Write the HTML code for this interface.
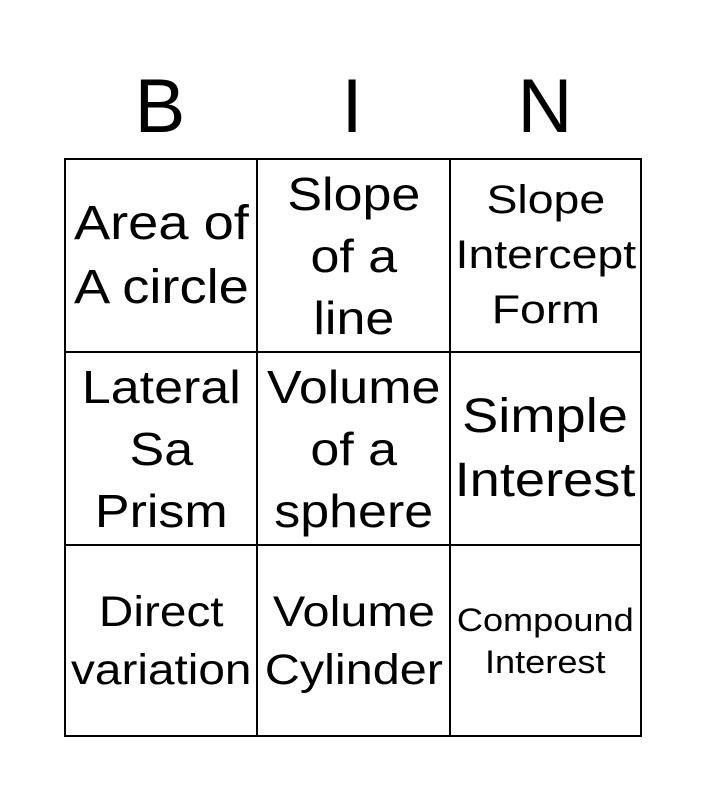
<!DOCTYPE html>
<html><head><style>
body{margin:0;width:705px;height:800px;background:#fff;font-family:"Liberation Sans",Arial,sans-serif;position:relative;overflow:hidden}
.h{position:absolute;top:62px;font-size:76px;line-height:90px;width:192px;text-align:center;color:#000}
.c{position:absolute;display:flex;align-items:center;justify-content:center;text-align:center;color:#000;box-sizing:border-box;border:2px solid #000;white-space:nowrap}
.c span{display:inline-block;transform:scaleX(1.13)}
</style></head><body>
<div class="h" style="left:64px">B</div>
<div class="h" style="left:256px">I</div>
<div class="h" style="left:449px">N</div>

<div class="c" style="left:64px;top:158px;width:194px;height:195px;font-size:48px;line-height:64px"><span>Area of<br>A circle</span></div>
<div class="c" style="left:256px;top:158px;width:195px;height:195px;font-size:46px;line-height:62px"><span>Slope<br>of a<br>line</span></div>
<div class="c" style="left:449px;top:158px;width:193px;height:195px;font-size:40px;line-height:55px"><span style="transform:scaleX(1.16)">Slope<br>Intercept<br>Form</span></div>

<div class="c" style="left:64px;top:351px;width:194px;height:195px;font-size:46px;line-height:62px"><span>Lateral<br>Sa<br>Prism</span></div>
<div class="c" style="left:256px;top:351px;width:195px;height:195px;font-size:46px;line-height:62px"><span>Volume<br>of a<br>sphere</span></div>
<div class="c" style="left:449px;top:351px;width:193px;height:195px;font-size:48px;line-height:64px"><span>Simple<br>Interest</span></div>

<div class="c" style="left:64px;top:544px;width:194px;height:193px;font-size:43px;line-height:58px"><span style="transform:scaleX(1.11)">Direct<br>variation</span></div>
<div class="c" style="left:256px;top:544px;width:195px;height:193px;font-size:43px;line-height:58px"><span>Volume<br>Cylinder</span></div>
<div class="c" style="left:449px;top:544px;width:193px;height:193px;font-size:32px;line-height:42px"><span>Compound<br>Interest</span></div>
</body></html>
